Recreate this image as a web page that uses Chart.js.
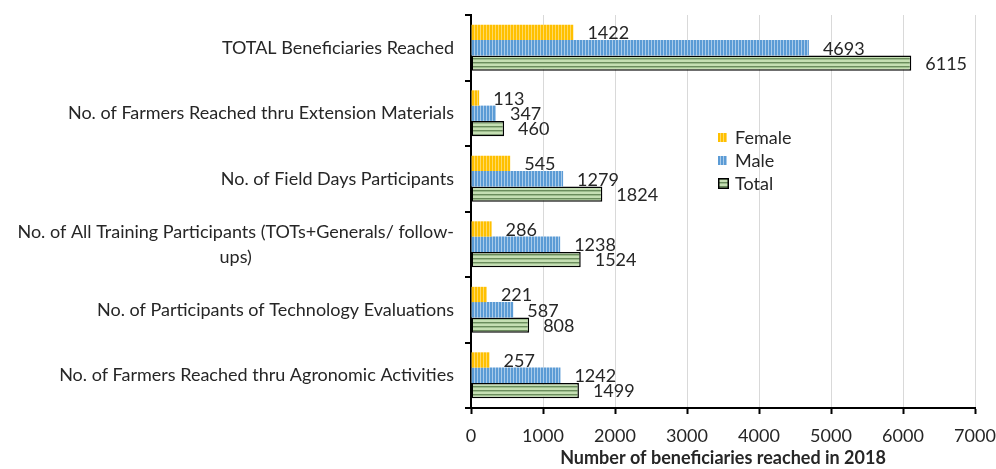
<!DOCTYPE html>
<html>
<head>
<meta charset="utf-8">
<title>Beneficiaries reached in 2018</title>
<script src="https://cdn.jsdelivr.net/npm/chart.js@4.4.1/dist/chart.umd.min.js"></script>
<style>
  html, body { margin: 0; padding: 0; background: #fff; }
  #wrap { width: 996px; height: 469px; position: relative; }
</style>
</head>
<body>
<div id="wrap"><canvas id="bar"></canvas></div>
<script>
// categories, top to bottom
var categories = [
    "TOTAL Beneficiaries Reached",
    "No. of Farmers Reached thru Extension Materials",
    "No. of Field Days Participants",
    ["No. of All Training Participants (TOTs+Generals/ follow-", "ups)"],
    "No. of Participants of Technology Evaluations",
    "No. of Farmers Reached thru Agronomic Activities"
];
var seriesNames = ["Female", "Male", "Total"];
var femaleValues = [1422, 113, 545, 286, 221, 257];
var maleValues = [4693, 347, 1279, 1238, 587, 1242];
var totalValues = [6115, 460, 1824, 1524, 808, 1499];
var xTicks = [0, 1000, 2000, 3000, 4000, 5000, 6000, 7000];

(function () {
    "use strict";

    var FONT = "Lato, 'Open Sans', sans-serif";
    var SIZE = 18;
    var TEXT = "#262626";

    // striped fills, like the Excel pattern fills
    function stripes(w, h, base, line, vertical) {
        var c = document.createElement("canvas");
        c.width = w; c.height = h;
        var g = c.getContext("2d");
        g.fillStyle = base;
        g.fillRect(0, 0, w, h);
        g.fillStyle = line;
        if (vertical) g.fillRect(0, 0, 1, h);
        else g.fillRect(0, 0, w, 1);
        return g.createPattern(c, "repeat");
    }

    function greenStripes() {
        var c = document.createElement("canvas");
        c.width = 4; c.height = 4;
        var g = c.getContext("2d");
        g.fillStyle = "#c5dfb3"; g.fillRect(0, 0, 4, 4);
        g.fillStyle = "#6a8c5c"; g.fillRect(0, 2, 4, 1);
        g.fillStyle = "#9dbd8d"; g.fillRect(0, 3, 4, 1);
        return g.createPattern(c, "repeat");
    }

    var fills = [
        stripes(3, 3, "#ffc000", "#ffd966", true),
        stripes(3, 3, "#5b9bd5", "#a9cbea", true),
        greenStripes()
    ];

    // value labels at bar ends
    var valueLabels = {
        id: "valueLabels",
        afterDatasetsDraw: function (chart) {
            var ctx = chart.ctx;
            ctx.save();
            ctx.font = SIZE + "px " + FONT;
            ctx.fillStyle = TEXT;
            ctx.textAlign = "left";
            ctx.textBaseline = "middle";
            chart.data.datasets.forEach(function (ds, i) {
                chart.getDatasetMeta(i).data.forEach(function (el, j) {
                    ctx.fillText(String(ds.data[j]), el.x + 14, el.y + 1);
                });
            });
            ctx.restore();
        }
    };

    // category labels: right aligned, wrapped lines centred on each other
    var categoryLabels = {
        id: "categoryLabels",
        afterDraw: function (chart) {
            var ctx = chart.ctx;
            var y = chart.scales.y;
            var right = 454;
            var lh = 25;
            ctx.save();
            ctx.font = SIZE + "px " + FONT;
            ctx.fillStyle = TEXT;
            ctx.textBaseline = "middle";
            ctx.textAlign = "center";
            categories.forEach(function (lab, i) {
                var lines = Array.isArray(lab) ? lab : [lab];
                var cy = y.getPixelForTick(i);
                var w = 0;
                lines.forEach(function (l) { w = Math.max(w, ctx.measureText(l).width); });
                var cx = right - w / 2;
                lines.forEach(function (l, k) {
                    ctx.fillText(l, cx, cy + (k - (lines.length - 1) / 2) * lh);
                });
            });
            ctx.restore();
        }
    };

    // legend inside the plot
    var innerLegend = {
        id: "innerLegend",
        afterDraw: function (chart) {
            var ctx = chart.ctx;
            var x = 718, y0 = 137, step = 23;
            ctx.save();
            ctx.font = SIZE + "px " + FONT;
            ctx.textAlign = "left";
            ctx.textBaseline = "middle";
            seriesNames.forEach(function (name, i) {
                var cy = y0 + i * step;
                ctx.fillStyle = fills[i];
                if (i === 2) {
                    ctx.fillRect(x, cy - 5, 11, 11);
                    ctx.strokeStyle = "#000";
                    ctx.lineWidth = 1.5;
                    ctx.strokeRect(x + 0.75, cy - 4.25, 9.5, 9.5);
                } else {
                    ctx.fillRect(x, cy - 4, 9, 9);
                }
                ctx.fillStyle = TEXT;
                ctx.fillText(name, x + 17, cy + 1);
            });
            ctx.restore();
        }
    };

    var ctx = document.getElementById("bar").getContext("2d");
    new Chart(ctx, {
        type: "bar",
        data: {
            labels: categories,
            datasets: [
                { label: seriesNames[0], data: femaleValues, backgroundColor: fills[0], borderWidth: 0 },
                { label: seriesNames[1], data: maleValues, backgroundColor: fills[1], borderWidth: 0 },
                { label: seriesNames[2], data: totalValues, backgroundColor: fills[2],
                  borderColor: "#000", borderWidth: 1.5, borderSkipped: false }
            ]
        },
        options: {
            indexAxis: "y",
            responsive: true,
            maintainAspectRatio: false,
            animation: false,
            categoryPercentage: 0.7,
            barPercentage: 1,
            layout: { padding: { top: 15, right: 21, left: 0, bottom: 0 } },
            plugins: {
                legend: { display: false },
                tooltip: { enabled: false }
            },
            scales: {
                x: {
                    min: xTicks[0],
                    max: xTicks[xTicks.length - 1],
                    afterBuildTicks: function (scale) {
                        scale.ticks = xTicks.map(function (v) { return { value: v }; });
                    },
                    grid: { color: "#d9d9d9", lineWidth: 1, tickColor: "#000", tickLength: 6, tickWidth: 2 },
                    border: { color: "#000", width: 2 },
                    ticks: {
                        color: TEXT,
                        font: { family: FONT, size: SIZE },
                        padding: 11,
                        maxRotation: 0,
                        callback: function (v) { return String(v); }
                    },
                    title: {
                        display: true,
                        text: "Number of beneficiaries reached in 2018",
                        color: TEXT,
                        font: { family: FONT, size: 18, weight: "bold" },
                        padding: { top: 0, bottom: 0 }
                    },
                    afterFit: function (scale) {
                        scale.height = 61;
                        scale.paddingRight = 0;
                        scale.paddingLeft = 0;
                    }
                },
                y: {
                    grid: { drawOnChartArea: false, drawTicks: true, tickLength: 6, color: "#000", lineWidth: 2 },
                    border: { color: "#000", width: 2 },
                    ticks: { color: "rgba(0,0,0,0)", font: { family: FONT, size: SIZE } },
                    afterFit: function (scale) { scale.width = 471; }
                }
            }
        },
        plugins: [valueLabels, categoryLabels, innerLegend]
    });
})();
</script>
</body>
</html>
